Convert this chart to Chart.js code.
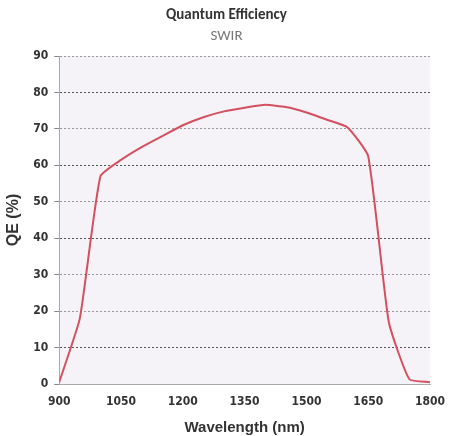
<!DOCTYPE html>
<html>
<head>
<meta charset="utf-8">
<script src="https://cdn.jsdelivr.net/npm/chart.js@4"></script>
<style>
  html, body { margin: 0; padding: 0; background: #fff; }
  #qeChart { display: block; }
</style>
</head>
<body>
<canvas id="qeChart" width="449" height="436"></canvas>
<script>
const wavelengths = [900, 950, 1000, 1050, 1100, 1150, 1200, 1250, 1300, 1350, 1400,
  1450, 1500, 1550, 1600, 1650, 1700, 1750, 1800];
const qeValues = [0.5, 18, 57, 61.5, 65, 68, 71, 73.2, 74.8, 75.8, 76.6,
  76, 74.5, 72.5, 70.4, 62.5, 17, 1.3, 0.5];
const xTicks = [900, 1050, 1200, 1350, 1500, 1650, 1800];
const yTicks = [0, 10, 20, 30, 40, 50, 60, 70, 80, 90];

const tickFont = { family: "'Liberation Sans Narrow', 'DejaVu Sans Condensed', Arial", size: 12, weight: "bold", lineHeight: 1 };

// faint tinted plot area like the scanned figure
const plotBg = {
  id: "plotBg",
  beforeDraw(chart) {
    const { ctx, chartArea: a } = chart;
    ctx.save();
    ctx.fillStyle = "#f6f3f8";
    ctx.fillRect(a.left, a.top, a.right - a.left, a.bottom - a.top);
    ctx.restore();
  },
};

new Chart(document.getElementById("qeChart"), {
  type: "line",
  data: {
    datasets: [
      {
        label: "QE",
        data: wavelengths.map((w, i) => ({ x: w, y: qeValues[i] })),
        borderColor: "#d2505f",
        borderWidth: 2,
        pointRadius: 0,
        tension: 0.15,
        fill: false,
      },
    ],
  },
  options: {
    responsive: false,
    animation: false,
    layout: { padding: { left: 4, right: 0, top: 0, bottom: 1 } },
    scales: {
      x: {
        type: "linear",
        min: 900,
        max: 1800,
        afterBuildTicks: (axis) => { axis.ticks = xTicks.map((v) => ({ value: v })); },
        afterFit: (axis) => { axis.paddingRight = 19; },
        ticks: { color: "#333", font: tickFont, padding: 12, callback: (v) => String(v) },
        grid: { display: false, drawTicks: false },
        border: { color: "#aaa", dash: [2, 2] },
        title: {
          display: true,
          text: "Wavelength (nm)",
          color: "#333",
          font: { family: "Arial, 'Liberation Sans'", size: 15, weight: "bold", lineHeight: 1 },
          padding: { top: 0, bottom: 0 },
        },
      },
      y: {
        min: 0,
        max: 90,
        afterBuildTicks: (axis) => { axis.ticks = yTicks.map((v) => ({ value: v })); },
        ticks: { color: "#333", font: tickFont, padding: 6, callback: (v) => String(v) },
        grid: {
          color: (c) => ([10, 40, 60, 80].includes(c.tick && c.tick.value) ? "#555" : "#999"),
          tickColor: "#888",
          tickLength: 5,
          drawTicks: true,
        },
        border: { color: "#aaa", dash: [2, 2] },
        title: {
          display: true,
          text: "QE (%)",
          color: "#333",
          font: { family: "Arial, 'Liberation Sans'", size: 16, weight: "bold" },
          padding: { top: 0, bottom: 4 },
        },
      },
    },
    plugins: {
      legend: { display: false },
      tooltip: { enabled: false },
      title: {
        display: true,
        text: "Quantum Efficiency",
        color: "#333",
        font: { family: "Calibri, Carlito, 'Open Sans', Arial", size: 15, weight: "bold" },
        padding: { top: 6, bottom: 3 },
      },
      subtitle: {
        display: true,
        text: "SWIR",
        color: "#777",
        font: { family: "Calibri, Carlito, 'Open Sans', Arial", size: 15 },
        padding: { bottom: 11 },
      },
    },
  },
  plugins: [plotBg],
});
</script>
</body>
</html>
